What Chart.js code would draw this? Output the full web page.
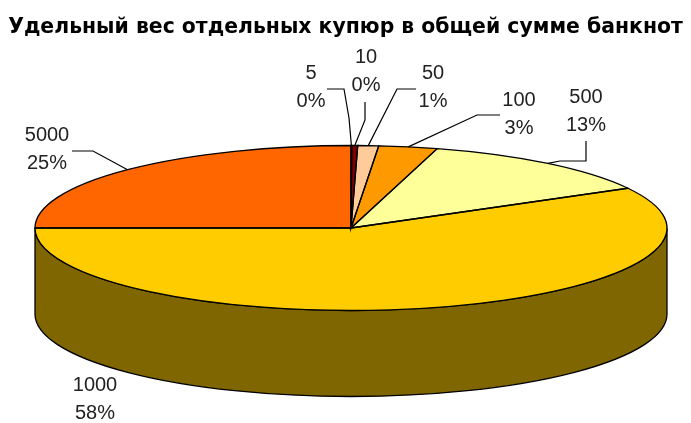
<!DOCTYPE html>
<html>
<head>
<meta charset="utf-8">
<style>
  html, body { margin: 0; padding: 0; background: #fff; }
  canvas { display: block; }
</style>
<script src="https://cdn.jsdelivr.net/npm/chart.js"></script>
</head>
<body>
<canvas id="myChart" width="691" height="423"></canvas>
<script>
const titleText = 'Удельный вес отдельных купюр в общей сумме банкнот'
const labels = ['5', '10', '50', '100', '500', '1000', '5000']
const values = [0.04, 0.3, 1.06, 3, 12.6, 58, 25]
const colors = ['#333300', '#800000', '#FFCC99', '#FF9900', '#FFFF99', '#FFCC00', '#FF6600']

// where the flattened pie sits on the page
const pie = { cx: 351, cy: 228, rx: 316, ry: 82.5, depth: 86 }

// label centre and the bends of its leader line, the end of the line comes from the slice
const callouts = [
  { x: 311, y: 73, line: [[327, 89], [344, 89], [349, 118]] },
  { x: 366, y: 57, line: [[365, 102], [365, 120]] },
  { x: 433, y: 73, line: [[416, 89], [397, 89]] },
  { x: 519, y: 100, line: [[500, 115], [477, 115]] },
  { x: 586, y: 97, line: [[586, 141], [586, 161], [560, 161]] },
  { x: 95, y: 385, line: [] },
  { x: 47, y: 135, line: [[72, 151], [93, 151]] }
]

function shade(hex) {
  const n = parseInt(hex.slice(1), 16)
  const r = (n >> 16) >> 1, g = ((n >> 8) & 255) >> 1, b = (n & 255) >> 1
  return 'rgb(' + r + ',' + g + ',' + b + ')'
}

const pie3d = {
  id: 'pie3d',
  beforeDatasetsDraw(chart) {
    // the wall under the front half of the pie
    const ctx = chart.ctx
    chart.getDatasetMeta(0).data.forEach((arc, i) => {
      const a0 = Math.max(arc.startAngle, 0)
      const a1 = Math.min(arc.endAngle, Math.PI)
      if (a1 <= a0) return
      ctx.beginPath()
      ctx.ellipse(pie.cx, pie.cy, pie.rx, pie.ry, 0, a0, a1)
      ctx.ellipse(pie.cx, pie.cy + pie.depth, pie.rx, pie.ry, 0, a1, a0, true)
      ctx.closePath()
      ctx.fillStyle = shade(colors[i])
      ctx.fill()
      ctx.strokeStyle = '#000'
      ctx.lineWidth = 1.3
      ctx.stroke()
    })
  },
  beforeDatasetDraw(chart) {
    const ctx = chart.ctx
    const arc = chart.getDatasetMeta(0).data[0]
    ctx.save()
    ctx.translate(pie.cx, pie.cy)
    ctx.scale(pie.rx / arc.outerRadius, pie.ry / arc.outerRadius)
    ctx.translate(-arc.x, -arc.y)
  },
  afterDatasetDraw(chart) {
    chart.ctx.restore()
  },
  afterDatasetsDraw(chart) {
    const ctx = chart.ctx
    const arcs = chart.getDatasetMeta(0).data
    ctx.strokeStyle = '#000'
    ctx.lineWidth = 1.3
    arcs.forEach(arc => {
      ctx.beginPath()
      ctx.moveTo(pie.cx, pie.cy)
      ctx.ellipse(pie.cx, pie.cy, pie.rx, pie.ry, 0, arc.startAngle, arc.endAngle)
      ctx.closePath()
      ctx.stroke()
    })

    ctx.font = '20px "Liberation Sans"'
    ctx.textAlign = 'center'
    ctx.textBaseline = 'middle'
    ctx.fillStyle = '#222'
    const total = values.reduce((a, b) => a + b, 0)
    arcs.forEach((arc, i) => {
      const c = callouts[i]
      ctx.fillText(labels[i], c.x, c.y)
      ctx.fillText(Math.round(values[i] / total * 100) + '%', c.x, c.y + 28)
      if (!c.line.length) return
      const mid = (arc.startAngle + arc.endAngle) / 2
      ctx.beginPath()
      c.line.forEach((p, j) => j ? ctx.lineTo(p[0], p[1]) : ctx.moveTo(p[0], p[1]))
      ctx.lineTo(pie.cx + pie.rx * Math.cos(mid), pie.cy + pie.ry * Math.sin(mid))
      ctx.lineWidth = 1.2
      ctx.stroke()
    })
  }
}

new Chart(document.getElementById('myChart'), {
  type: 'pie',
  data: {
    labels: labels,
    datasets: [{
      data: values,
      backgroundColor: colors,
      borderWidth: 0,
      clip: false
    }]
  },
  options: {
    responsive: false,
    animation: false,
    plugins: {
      legend: { display: false },
      tooltip: { enabled: false },
      title: {
        display: true,
        text: titleText,
        color: '#000',
        font: { family: '"DejaVu Sans"', size: 20.4, weight: 'bold' },
        padding: { top: 15, bottom: 4 }
      }
    }
  },
  plugins: [pie3d]
})
</script>
</body>
</html>
